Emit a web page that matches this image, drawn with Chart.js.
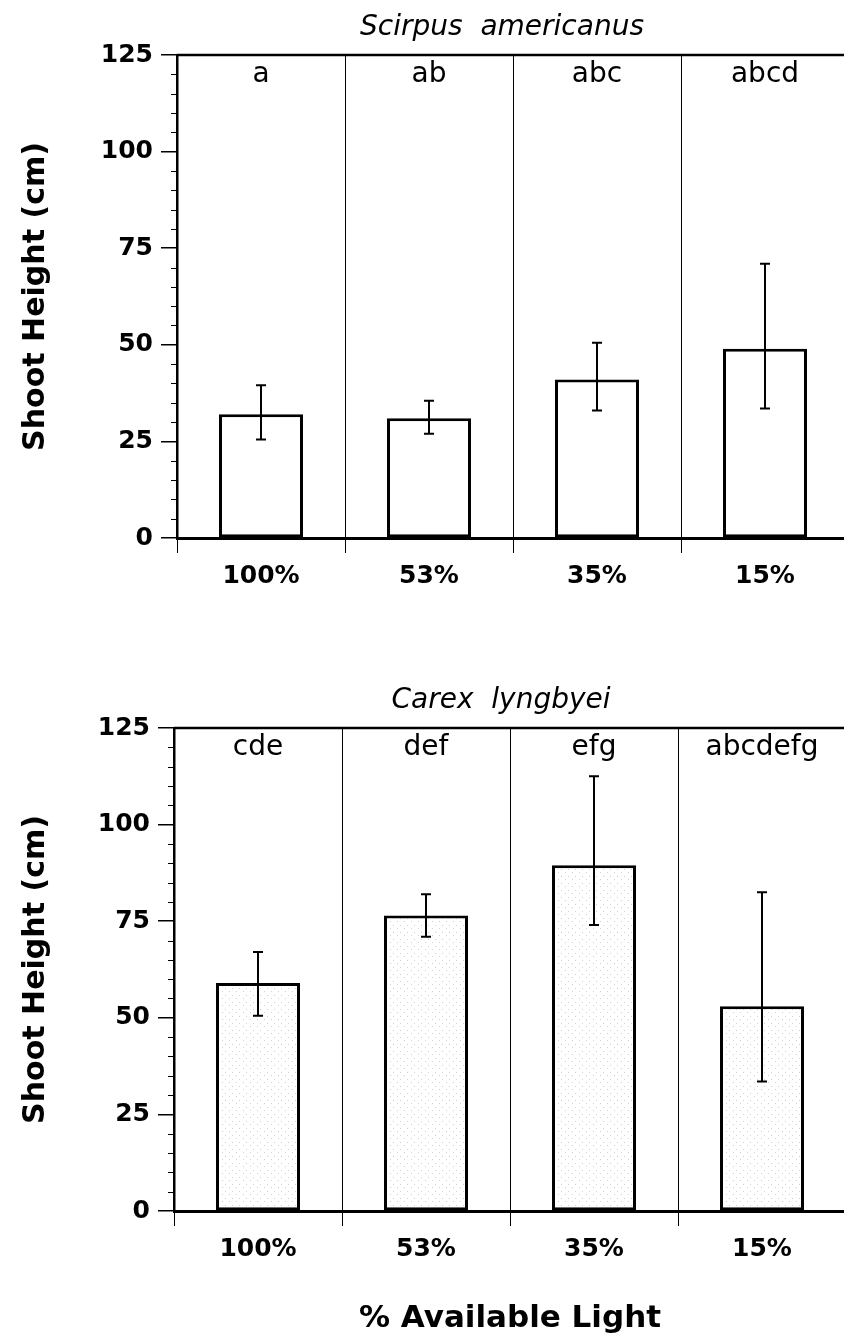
<!DOCTYPE html>
<html><head><meta charset="utf-8">
<script src="https://cdn.jsdelivr.net/npm/chart.js@4.4.1/dist/chart.umd.min.js"></script>
<style>
html,body{margin:0;padding:0;background:#fff;overflow:hidden;width:844px;height:1340px;position:relative;}
#c1{position:absolute;left:0;top:0;}
#c2{position:absolute;left:0;top:650px;}
</style></head><body>
<canvas id="c1" width="850" height="650"></canvas>
<canvas id="c2" width="850" height="690"></canvas>
<script>
const categories = ['100%', '53%', '35%', '15%'];
const yTicks = [0, 25, 50, 75, 100, 125];
const yTitle = 'Shoot Height (cm)';
const xTitle = '% Available Light';

const scirpusTitle = 'Scirpus  americanus';
const scirpusMean = [32, 31, 41, 49];
const scirpusLow = [25.5, 27, 33, 33.5];
const scirpusHigh = [39.5, 35.5, 50.5, 71];
const scirpusLetters = ['a', 'ab', 'abc', 'abcd'];

const carexTitle = 'Carex  lyngbyei';
const carexMean = [59, 76.5, 89.5, 53];
const carexLow = [50.5, 71, 74, 33.5];
const carexHigh = [67, 82, 112.5, 82.5];
const carexLetters = ['cde', 'def', 'efg', 'abcdefg'];

const FONT = 'DejaVu Sans';
const MINOR_STEP = 5;

function stipple() {
  const c = document.createElement('canvas');
  c.width = 7; c.height = 7;
  const g = c.getContext('2d');
  g.fillStyle = '#ffffff'; g.fillRect(0, 0, 7, 7);
  g.fillStyle = '#d0d0d0';
  g.fillRect(1, 2, 1, 1);
  g.fillRect(5, 5, 1, 1);
  return g.createPattern(c, 'repeat');
}

function makeDecor(title, letters, low, high, L) {
  return {
    id: 'decor',
    afterDatasetsDraw(chart) {
      const ctx = chart.ctx, ca = chart.chartArea, y = chart.scales.y;
      const meta = chart.getDatasetMeta(0);
      ctx.save();
      ctx.strokeStyle = '#000';
      // top frame line
      ctx.lineWidth = 2.5;
      ctx.beginPath(); ctx.moveTo(ca.left, ca.top); ctx.lineTo(ca.right, ca.top); ctx.stroke();
      // minor ticks
      ctx.lineWidth = 1;
      for (let v = y.min; v <= y.max; v += MINOR_STEP) {
        if (yTicks.includes(v)) continue;
        const py = Math.round(y.getPixelForValue(v)) + 0.5;
        ctx.beginPath(); ctx.moveTo(ca.left - 6, py); ctx.lineTo(ca.left, py); ctx.stroke();
      }
      // error bars
      ctx.lineWidth = 2;
      meta.data.forEach((bar, i) => {
        const x = bar.x;
        const yh = y.getPixelForValue(high[i]);
        const yl = y.getPixelForValue(low[i]);
        ctx.beginPath();
        ctx.moveTo(x, yh); ctx.lineTo(x, yl);
        ctx.moveTo(x - 5, yh); ctx.lineTo(x + 5, yh);
        ctx.moveTo(x - 5, yl); ctx.lineTo(x + 5, yl);
        ctx.stroke();
      });
      // significance letters
      ctx.fillStyle = '#000';
      ctx.textAlign = 'center';
      ctx.textBaseline = 'alphabetic';
      ctx.font = '28px "' + FONT + '"';
      meta.data.forEach((bar, i) => ctx.fillText(letters[i], bar.x, ca.top + 27));
      // species title
      ctx.font = 'italic 28px "' + FONT + '"';
      ctx.fillText(title, (ca.left + ca.right) / 2 - L.titleShift, ca.top - 20);
      ctx.restore();
    }
  };
}

function makeChart(id, mean, low, high, letters, title, L) {
  return new Chart(document.getElementById(id), {
    type: 'bar',
    data: {
      labels: categories,
      datasets: [{
        data: mean,
        backgroundColor: L.fill,
        borderColor: '#000',
        borderWidth: 3,
        borderSkipped: false,
        barPercentage: 1,
        categoryPercentage: 0.5
      }]
    },
    options: {
      responsive: false,
      animation: false,
      devicePixelRatio: 1,
      layout: { padding: { top: L.top, left: 0, right: L.right, bottom: 0 } },
      plugins: { legend: { display: false }, tooltip: { enabled: false }, title: { display: false } },
      scales: {
        x: {
          grid: { offset: true, color: '#000', lineWidth: 1, tickLength: 15, drawOnChartArea: true },
          border: { display: true, color: '#000', width: 3 },
          ticks: { color: '#000', font: { family: FONT, size: 25, weight: 'bold' }, padding: 8, maxRotation: 0 },
          title: { display: L.xTitle, text: xTitle, color: '#000',
                   font: { family: FONT, size: 31, weight: 'bold' }, padding: { top: 0, bottom: 2 } },
          afterFit: s => { s.height = L.xh; }
        },
        y: {
          min: 0, max: 125,
          afterBuildTicks: s => { s.ticks = yTicks.map(v => ({ value: v })); },
          grid: { drawOnChartArea: false, color: '#000', lineWidth: 1.5, tickLength: 16 },
          border: { display: true, color: '#000', width: 2.5 },
          ticks: { color: '#000', font: { family: FONT, size: 25, weight: 'bold' }, padding: 8 },
          title: { display: true, text: yTitle, color: '#000',
                   font: { family: FONT, size: 30, weight: 'bold' }, padding: { top: 18, bottom: 0 } },
          afterFit: s => { s.width = L.yw; }
        }
      }
    },
    plugins: [makeDecor(title, letters, low, high, L)]
  });
}

makeChart('c1', scirpusMean, scirpusLow, scirpusHigh, scirpusLetters, scirpusTitle,
  { fill: '#ffffff', top: 55, right: 1, yw: 177, xh: 112, xTitle: false, titleShift: 11 });
makeChart('c2', carexMean, carexLow, carexHigh, carexLetters, carexTitle,
  { fill: stipple(), top: 78, right: 4, yw: 174, xh: 129, xTitle: true, titleShift: 9 });
</script>
</body></html>
